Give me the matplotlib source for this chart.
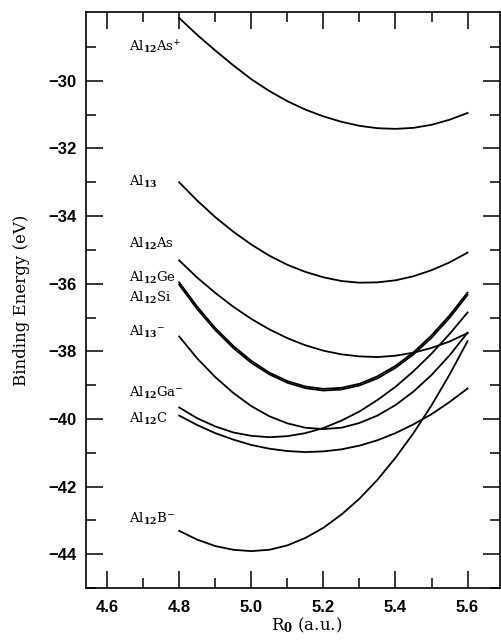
import matplotlib
matplotlib.use("Agg")
import matplotlib.pyplot as plt
from matplotlib.ticker import MultipleLocator, FixedLocator, FuncFormatter

plt.rcParams['mathtext.fontset'] = 'dejavuserif'

r0 = [4.80, 4.85, 4.90, 4.95, 5.00, 5.05, 5.10, 5.15, 5.20,
      5.25, 5.30, 5.35, 5.40, 5.45, 5.50, 5.55, 5.60]

al12as_p = [-28.14, -28.64, -29.10, -29.54, -29.95, -30.30, -30.60, -30.85, -31.05,
            -31.21, -31.33, -31.40, -31.42, -31.39, -31.30, -31.15, -30.95]
al13 = [-33.00, -33.54, -34.03, -34.46, -34.84, -35.17, -35.44, -35.65, -35.81,
        -35.92, -35.97, -35.96, -35.90, -35.78, -35.60, -35.37, -35.08]
al12as = [-35.31, -35.82, -36.27, -36.68, -37.04, -37.35, -37.61, -37.82, -37.98,
          -38.09, -38.15, -38.17, -38.13, -38.04, -37.90, -37.71, -37.46]
al12ge = [-35.96, -36.68, -37.31, -37.84, -38.28, -38.63, -38.88, -39.04, -39.11,
          -39.08, -38.96, -38.74, -38.43, -38.03, -37.53, -36.94, -36.26]
al12si = [-36.03, -36.75, -37.37, -37.90, -38.34, -38.68, -38.93, -39.09, -39.16,
          -39.13, -39.01, -38.80, -38.49, -38.09, -37.60, -37.01, -36.33]
al13_m = [-37.56, -38.21, -38.76, -39.23, -39.62, -39.92, -40.13, -40.26, -40.30,
          -40.26, -40.12, -39.90, -39.59, -39.19, -38.70, -38.12, -37.45]
al12ga_m = [-39.66, -39.98, -40.22, -40.40, -40.50, -40.54, -40.51, -40.42, -40.27,
            -40.05, -39.78, -39.44, -39.05, -38.59, -38.07, -37.49, -36.85]
al12c = [-39.90, -40.18, -40.42, -40.61, -40.77, -40.88, -40.95, -40.98, -40.96,
         -40.90, -40.79, -40.63, -40.42, -40.16, -39.86, -39.50, -39.10]
al12b_m = [-43.31, -43.57, -43.76, -43.87, -43.91, -43.87, -43.74, -43.52, -43.22,
           -42.83, -42.36, -41.80, -41.15, -40.42, -39.60, -38.69, -37.70]

series = [al12as_p, al13, al12as, al12ge, al12si, al13_m, al12ga_m, al12c, al12b_m]

labels = [r'Al$_{\mathbf{12}}$As$^{+}$', r'Al$_{\mathbf{13}}$', r'Al$_{\mathbf{12}}$As',
          r'Al$_{\mathbf{12}}$Ge', r'Al$_{\mathbf{12}}$Si', r'Al$_{\mathbf{13}}$$^{-}$',
          r'Al$_{\mathbf{12}}$Ga$^{-}$', r'Al$_{\mathbf{12}}$C', r'Al$_{\mathbf{12}}$B$^{-}$']
label_y = [-29.0, -33.0, -34.82, -35.83, -36.42, -37.43, -39.23, -40.0, -42.96]
label_x = 4.661

y_ticks = [-44, -42, -40, -38, -36, -34, -32, -30]
x_ticks = [4.6, 4.8, 5.0, 5.2, 5.4, 5.6]

fig = plt.figure(figsize=(5.01, 6.44), dpi=100)
ax = fig.add_axes([0.172, 0.087, 0.826, 0.894])

for ys in series:
    ax.plot(r0, ys, color='black', lw=1.3)

for lab, ly in zip(labels, label_y):
    ax.text(label_x, ly, lab, fontsize=9.5, family='DejaVu Serif',
            ha='left', va='center')

ax.set_xlim(4.542, 5.69)
ax.set_ylim(-45, -27.97)
ax.xaxis.set_major_locator(FixedLocator(x_ticks))
ax.xaxis.set_minor_locator(MultipleLocator(0.1))
ax.yaxis.set_major_locator(FixedLocator(y_ticks))
ax.yaxis.set_minor_locator(FixedLocator([-45, -43, -41, -39, -37, -35, -33, -31, -29]))
ax.tick_params(which='both', direction='in', top=True, right=True, width=1.1)
ax.tick_params(which='major', length=12, labelsize=12)
ax.tick_params(axis='y', which='major', pad=7)
ax.tick_params(axis='x', which='major', pad=9)
ax.tick_params(which='minor', length=7)
ax.xaxis.set_major_formatter(FuncFormatter(lambda v, p: f"{v:.1f}"))
ax.yaxis.set_major_formatter(FuncFormatter(lambda v, p: f"\u2212{abs(v):.0f}" if v < 0 else f"{v:.0f}"))
for lab in ax.get_xticklabels() + ax.get_yticklabels():
    lab.set_family('Liberation Sans')
    lab.set_fontweight('bold')
for sp in ax.spines.values():
    sp.set_linewidth(1.2)

ax.set_ylabel('Binding Energy (eV)', family='DejaVu Serif', fontsize=12)
ax.yaxis.set_label_coords(-0.135, 0.5)
ax.set_xlabel(r'R$_{\mathbf{0}}$ (a.u.)', family='DejaVu Serif', fontsize=12)
ax.xaxis.set_label_coords(0.533, -0.048)

fig.savefig('out.png', dpi=100)
